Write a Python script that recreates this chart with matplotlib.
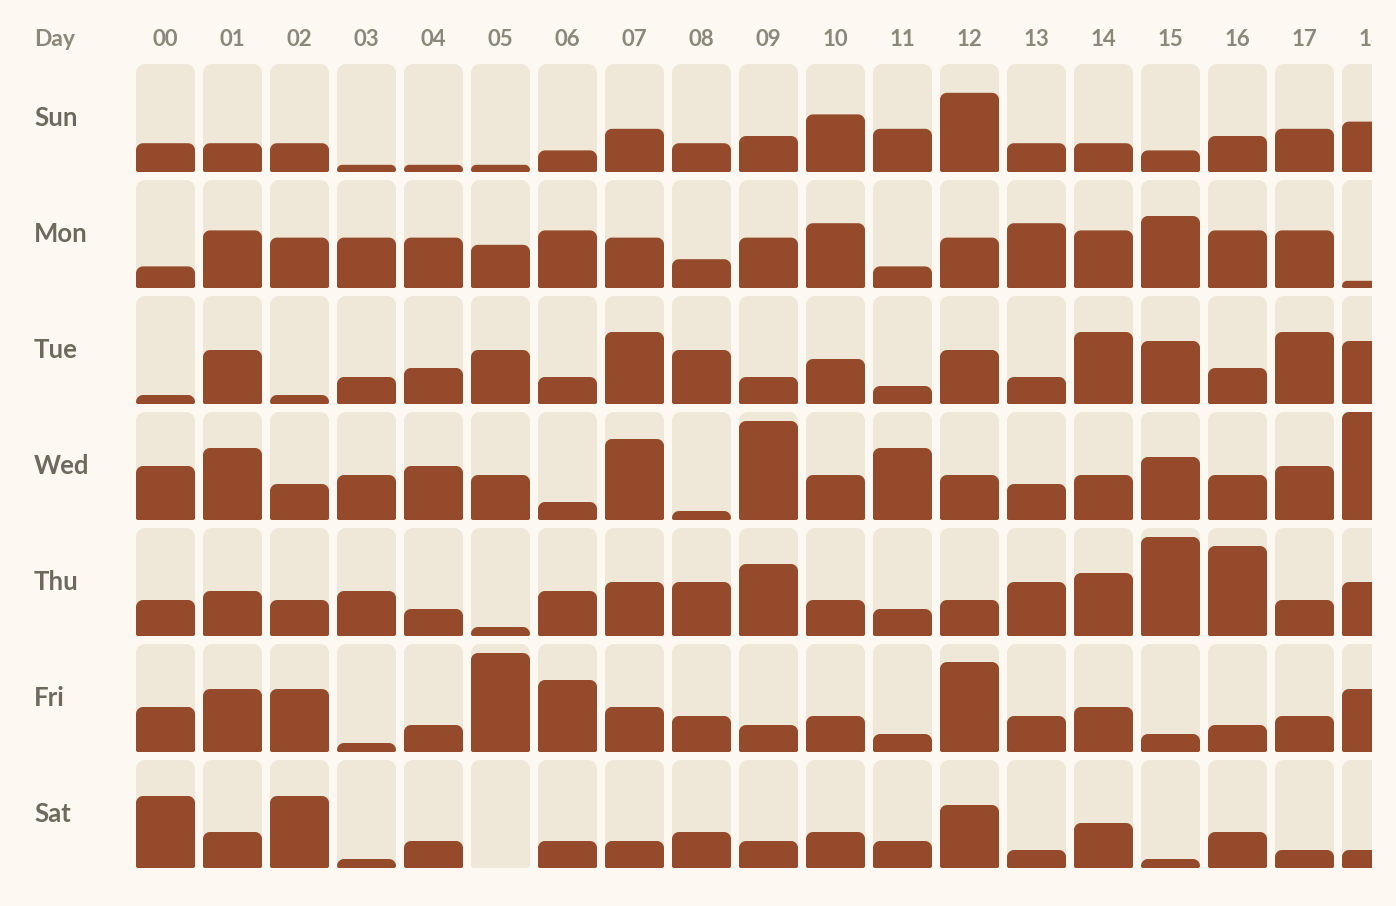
import numpy as np
import matplotlib
matplotlib.use('Agg')
import matplotlib.pyplot as plt
from matplotlib.patches import Polygon

# data: hourly counts per weekday (only hours 00-18 are visible, 18 is cut off)
days = ['Sun', 'Mon', 'Tue', 'Wed', 'Thu', 'Fri', 'Sat']
hours = ['%02d' % h for h in range(19)]

sun = [4, 4, 4, 1, 1, 1, 3, 6, 4, 5, 8, 6, 11, 4, 4, 3, 5, 6, 7]
mon = [3, 8, 7, 7, 7, 6, 8, 7, 4, 7, 9, 3, 7, 9, 8, 10, 8, 8, 1]
tue = [1, 6, 1, 3, 4, 6, 3, 8, 6, 3, 5, 2, 6, 3, 8, 7, 4, 8, 7]
wed = [6, 8, 4, 5, 6, 5, 2, 9, 1, 11, 5, 8, 5, 4, 5, 7, 5, 6, 12]
thu = [4, 5, 4, 5, 3, 1, 5, 6, 6, 8, 4, 3, 4, 6, 7, 11, 10, 4, 6]
fri = [5, 7, 7, 1, 3, 11, 8, 5, 4, 3, 4, 2, 10, 4, 5, 2, 3, 4, 7]
sat = [8, 4, 8, 1, 3, 0, 3, 3, 4, 3, 4, 3, 7, 2, 5, 1, 4, 2, 2]
# each row is scaled to its own maximum (which may sit in the hidden hours)
row_max = [15, 15, 12, 12, 12, 12, 12]

counts = np.array([sun, mon, tue, wed, thu, fri, sat], dtype=float)

# colours
bg = '#fdf9f2'
cell_col = '#efe8d8'
bar_col = '#944a2b'
hour_col = '#8c877a'
day_col = '#6e695c'

# layout (pixels)
W, H = 1396, 906
clip_x = 1372
x0, y0 = 136, 64
col_pitch, cell_w = 67, 59
row_pitch, cell_h = 116, 108


def rounded_shape(x, bottom, w, h, r_top, r_bot, n=10):
    '''rectangle with separate top / bottom corner radii (y axis points down)'''
    r_bot = min(r_bot, h / 2., w / 2.)
    r_top = min(r_top, h - r_bot, w / 2.)
    top = bottom - h
    pts = []

    def arc(cx, cy, r, a0, a1):
        a = np.radians(np.linspace(a0, a1, n))
        return list(zip(cx + r * np.cos(a), cy + r * np.sin(a)))

    pts += arc(x + r_top, top + r_top, r_top, 180, 270)
    pts += arc(x + w - r_top, top + r_top, r_top, 270, 360)
    pts += arc(x + w - r_bot, bottom - r_bot, r_bot, 0, 90)
    pts += arc(x + r_bot, bottom - r_bot, r_bot, 90, 180)
    return pts


fig = plt.figure(figsize=(W / 100., H / 100.), dpi=100, facecolor=bg)
ax = fig.add_axes([0, 0, clip_x / W, 1])
ax.set_facecolor(bg)
ax.set_xlim(0, clip_x)
ax.set_ylim(H, 0)
ax.axis('off')

font = 'Lato'

for j, day in enumerate(days):
    bottom = y0 + j * row_pitch + cell_h
    ax.text(34, bottom - cell_h / 2., day, ha='left', va='center',
            fontsize=18.5, fontweight='bold', color=day_col, family=font)
    for i in range(len(hours)):
        x = x0 + i * col_pitch
        ax.add_patch(Polygon(rounded_shape(x, bottom, cell_w, cell_h, 9, 3),
                             closed=True, facecolor=cell_col, edgecolor='none'))
        v = counts[j, i]
        if v > 0:
            h = v / row_max[j] * cell_h
            ax.add_patch(Polygon(rounded_shape(x, bottom, cell_w, h, 7, 2),
                                 closed=True, facecolor=bar_col,
                                 edgecolor='none'))

# header
ax.text(34, 40, 'Day', ha='left', va='center', fontsize=16.5,
        fontweight='bold', color=hour_col, family=font)
for i, lab in enumerate(hours):
    ax.text(x0 + i * col_pitch + cell_w / 2., 40, lab, ha='center',
            va='center', fontsize=16, fontweight='bold', color=hour_col,
            family=font, clip_on=True)

fig.savefig('out.png', dpi=100, facecolor=bg)
